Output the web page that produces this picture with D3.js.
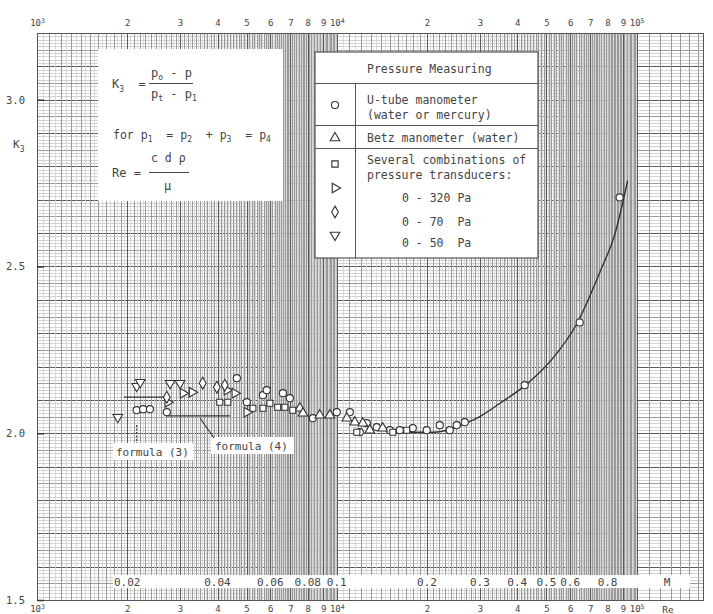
<!DOCTYPE html>
<html>
<head>
<meta charset="utf-8">
<script src="https://cdn.jsdelivr.net/npm/d3@7"></script>
<style>
  body { margin: 0; background: #fff; }
  text { font-family: "DejaVu Sans Mono", "Liberation Mono", monospace; fill: #444; }
</style>
</head>
<body>
<script>
// Re axis tick labels (top and bottom)
var reTicks = [1e3, 2e3, 3e3, 4e3, 5e3, 6e3, 7e3, 8e3, 9e3,
               1e4, 2e4, 3e4, 4e4, 5e4, 6e4, 7e4, 8e4, 9e4, 1e5];
var reTickLabels = ["10|3", "2", "3", "4", "5", "6", "7", "8", "9",
                    "10|4", "2", "3", "4", "5", "6", "7", "8", "9", "10|5"];
// Mach number scale printed inside the plot (M = Re / 1e5)
var machTicks = [0.02, 0.04, 0.06, 0.08, 0.1, 0.2, 0.3, 0.4, 0.5, 0.6, 0.8];
var k3Ticks = [1.5, 2.0, 2.5, 3.0];

// U-tube manometer (circles)
var uTubeRe = [2150, 2260, 2380, 2710, 4640, 5010, 5670, 5840, 6610, 6970, 8320, 10000, 11050,
               11930, 12590, 13590, 15030, 16220, 17920, 19950, 22050, 23810, 25120, 26720,
               42330, 64570, 87760];
var uTubeK3 = [2.069, 2.072, 2.072, 2.063, 2.165, 2.093, 2.114, 2.129, 2.120, 2.105, 2.045, 2.063, 2.063,
               2.003, 2.030, 2.018, 2.009, 2.009, 2.015, 2.009, 2.024, 2.009, 2.024, 2.033,
               2.144, 2.332, 2.707];
// Betz manometer (triangles)
var betzRe = [7530, 7710, 8770, 9480, 10800, 11480, 12210, 12880, 14230];
var betzK3 = [2.075, 2.060, 2.054, 2.054, 2.045, 2.033, 2.030, 2.009, 2.015];
// pressure transducers: squares, right triangles, diamonds, down triangles
var squareRe = [4070, 4330, 5250, 5670, 5980, 6350, 6710, 7130, 11660, 15380, 17110];
var squareK3 = [2.093, 2.093, 2.075, 2.075, 2.090, 2.078, 2.078, 2.069, 2.003, 2.003, 2.009];
var p320Re = [2730, 3070, 3290, 4300, 4570, 5010];
var p320K3 = [2.093, 2.120, 2.123, 2.129, 2.120, 2.063];
var p70Re = [2710, 3570, 3980, 4230];
var p70K3 = [2.108, 2.150, 2.138, 2.144];
var p50Re = [1860, 2150, 2210, 2780, 3000];
var p50K3 = [2.048, 2.141, 2.153, 2.150, 2.150];

// fitted curve
var curveRe = [15000, 18000, 21000, 24000, 27000, 30000, 35000, 42300, 52000, 63000, 76000, 84500, 93300];
var curveK3 = [2.006, 2.003, 2.003, 2.012, 2.030, 2.050, 2.090, 2.142, 2.220, 2.326, 2.490, 2.595, 2.757];

// formula lines
var formula3Re = [1950, 2700], formula3K3 = 2.108;
var formula4Re = [2700, 4400], formula4K3 = 2.052;

var W = 713, H = 614;
var margin = { top: 33, right: 10, bottom: 14, left: 37 };
var width = W - margin.left - margin.right;
var height = H - margin.top - margin.bottom;

var svg = d3.select("body").append("svg")
    .attr("width", W)
    .attr("height", H);

var g = svg.append("g")
    .attr("transform", "translate(" + margin.left + "," + margin.top + ")");

var x = d3.scaleLog().domain([1e3, 1.665e5]).range([0, width]);
var y = d3.scaleLinear().domain([1.5, 3.2]).range([height, 0]);

// ---- graph paper ----
var grid = g.append("g").attr("shape-rendering", "crispEdges");
var vLines = [];
[1e3, 1e4, 1e5].forEach(function(dec) {
    for (var i = 100; i < 1000; i += 5) {
        var v = dec * i / 100;
        if (v > x.domain()[1]) break;
        var kind = i % 100 === 0 ? 2 : (i % 10 === 0 ? 1 : 0);
        if (dec === 1e5 && kind === 0) continue;
        vLines.push({ v: v, kind: kind });
    }
});
var hLines = [];
for (var j = 150; j <= 320; j++) {
    hLines.push({ v: j / 100, kind: j % 10 === 0 ? 2 : (j % 5 === 0 ? 1 : 0) });
}
var gridColor = ["#d2d2d2", "#9a9a9a", "#5a5a5a"];

grid.selectAll(".hl").data(hLines).enter().append("line")
    .attr("x1", 0).attr("x2", width)
    .attr("y1", function(d) { return Math.round(y(d.v)) + 0.5; })
    .attr("y2", function(d) { return Math.round(y(d.v)) + 0.5; })
    .attr("stroke", function(d) { return gridColor[d.kind]; });

grid.selectAll(".vl").data(vLines).enter().append("line")
    .attr("y1", 0).attr("y2", height)
    .attr("x1", function(d) { return Math.round(x(d.v)) + 0.5; })
    .attr("x2", function(d) { return Math.round(x(d.v)) + 0.5; })
    .attr("stroke", function(d) { return gridColor[d.kind]; })
    .attr("stroke-opacity", function(d) { return d.kind === 0 ? 0.8 : 1; });

grid.append("rect")
    .attr("width", width).attr("height", height)
    .attr("fill", "none").attr("stroke", "#555");

// ---- white areas ----
var boxes = g.append("g");
// formula box (absolute coords minus margin)
boxes.append("rect").attr("x", 98 - 37).attr("y", 49 - 33).attr("width", 185).attr("height", 152).attr("fill", "#fff");
// legend box
boxes.append("rect").attr("x", 315 - 37).attr("y", 52 - 33).attr("width", 223).attr("height", 206)
    .attr("fill", "#fff").attr("stroke", "#555").attr("stroke-width", 1.2);
// Mach strip
boxes.append("rect").attr("x", 113 - 37).attr("y", 575 - 33).attr("width", 577).attr("height", 13).attr("fill", "#fff");
// formula labels
boxes.append("rect").attr("x", 113 - 37).attr("y", 443 - 33).attr("width", 80).attr("height", 17).attr("fill", "#fff");
boxes.append("rect").attr("x", 211 - 37).attr("y", 437 - 33).attr("width", 83).attr("height", 17).attr("fill", "#fff");

// ---- axes ----
function supLabels(sel) {
    sel.selectAll("text").each(function(d, i) {
        var lab = reTickLabels[i];
        var t = d3.select(this).text(null);
        if (lab.indexOf("|") >= 0) {
            var parts = lab.split("|");
            t.append("tspan").text(parts[0]);
            t.append("tspan").attr("dy", "-0.5em").attr("font-size", "6.5px").text(parts[1]);
        } else {
            t.text(lab);
        }
    });
    sel.select(".domain").remove();
    sel.selectAll("line").remove();
    sel.selectAll("text").style("font-family", "DejaVu Sans Mono").style("font-size", "9px").attr("fill", "#444");
}
g.append("g").call(d3.axisTop(x).tickValues(reTicks).tickSize(0).tickPadding(7)).call(supLabels);
g.append("g").attr("transform", "translate(0," + height + ")")
    .call(d3.axisBottom(x).tickValues(reTicks).tickSize(0).tickPadding(6)).call(supLabels);

var yAx = g.append("g").call(d3.axisLeft(y).tickValues(k3Ticks).tickSize(-7).tickPadding(12).tickFormat(d3.format(".1f")));
yAx.select(".domain").remove();
yAx.selectAll("line").attr("stroke", "#333").attr("stroke-width", 1.5);
yAx.selectAll("text").style("font-family", "DejaVu Sans Mono").style("font-size", "10.5px").attr("fill", "#555");

var k3Label = g.append("text").attr("x", 13 - 37).attr("y", 148 - 33).style("font-size", "11px");
k3Label.append("tspan").text("K");
k3Label.append("tspan").attr("dy", 4).style("font-size", "8px").text("3");

// Mach labels
g.selectAll(".mach").data(machTicks).enter().append("text")
    .attr("x", function(d) { return x(d * 1e5); })
    .attr("y", 586 - 33)
    .attr("text-anchor", "middle")
    .style("font-size", "11px")
    .text(function(d) { return d; });
g.append("text").attr("x", 667 - 37).attr("y", 586 - 33).attr("text-anchor", "middle").style("font-size", "11px").text("M");
g.append("text").attr("x", 668 - 37).attr("y", 613 - 33).attr("text-anchor", "middle").style("font-size", "9.5px").text("Re");

// ---- formula annotations ----
var ann = g.append("g").attr("stroke", "#333").attr("stroke-width", 1.2);
ann.append("line").attr("x1", x(formula3Re[0])).attr("x2", x(formula3Re[1]))
    .attr("y1", y(formula3K3)).attr("y2", y(formula3K3));
ann.append("line").attr("x1", x(formula4Re[0])).attr("x2", x(formula4Re[1]))
    .attr("y1", y(formula4K3)).attr("y2", y(formula4K3));
ann.append("line").attr("x1", x(2150)).attr("x2", x(2150))
    .attr("y1", y(2.025)).attr("y2", 443 - 33).attr("stroke-dasharray", "2,1.5");
ann.append("line").attr("x1", x(3500)).attr("x2", 214 - 37)
    .attr("y1", y(2.045)).attr("y2", 438 - 33);

g.append("text").attr("x", 116 - 37).attr("y", 456 - 33).style("font-size", "11px").text("formula (3)");
g.append("text").attr("x", 215 - 37).attr("y", 450 - 33).style("font-size", "11px").text("formula (4)");

// ---- curve ----
var curveData = curveRe.map(function(d, i) { return [d, curveK3[i]]; });
g.append("path")
    .datum(curveData)
    .attr("fill", "none")
    .attr("stroke", "#333")
    .attr("stroke-width", 1.4)
    .attr("d", d3.line()
        .x(function(d) { return x(d[0]); })
        .y(function(d) { return y(d[1]); })
        .curve(d3.curveMonotoneX));

// ---- points ----
var series = [
    { re: uTubeRe, k3: uTubeK3, sym: d3.symbolCircle, size: 40, rot: 0 },
    { re: betzRe, k3: betzK3, sym: d3.symbolTriangle, size: 40, rot: 0 },
    { re: squareRe, k3: squareK3, sym: d3.symbolSquare, size: 36, rot: 0 },
    { re: p320Re, k3: p320K3, sym: d3.symbolTriangle, size: 40, rot: 90 },
    { re: p70Re, k3: p70K3, sym: d3.symbolDiamond, size: 40, rot: 0 },
    { re: p50Re, k3: p50K3, sym: d3.symbolTriangle, size: 40, rot: 180 }
];
series.forEach(function(s) {
    g.selectAll(null)
        .data(s.re.map(function(d, i) { return [d, s.k3[i]]; }))
        .enter().append("path")
        .attr("d", d3.symbol().type(s.sym).size(s.size))
        .attr("transform", function(d) {
            return "translate(" + x(d[0]) + "," + y(d[1]) + ") rotate(" + s.rot + ")";
        })
        .attr("fill", "#fff")
        .attr("stroke", "#333")
        .attr("stroke-width", 1.1);
});

// ---- formula box text ----
var f = g.append("g").attr("transform", "translate(-37,-33)");
function sub(t, main, s, dy) {
    t.append("tspan").text(main);
    t.append("tspan").attr("dy", dy || 3).style("font-size", "8px").text(s);
    t.append("tspan").attr("dy", -(dy || 3)).text("\u200a");
}
var t1 = f.append("text").attr("x", 112).attr("y", 88).style("font-size", "12px");
sub(t1, "K", "3", 4);
t1.append("tspan").text(" =");
var num = f.append("text").attr("x", 151).attr("y", 77).style("font-size", "12px");
sub(num, "p", "o");
num.append("tspan").text("- p");
f.append("line").attr("x1", 149).attr("x2", 193).attr("y1", 83.5).attr("y2", 83.5).attr("stroke", "#444");
var den = f.append("text").attr("x", 151).attr("y", 98).style("font-size", "12px");
sub(den, "p", "t");
den.append("tspan").text("- p");
den.append("tspan").attr("dy", 3).style("font-size", "8px").text("1");

var t2 = f.append("text").attr("x", 113).attr("y", 139).style("font-size", "11.5px");
t2.append("tspan").text("for  ");
sub(t2, "p", "1");
t2.append("tspan").text(" = ");
sub(t2, "p", "2");
t2.append("tspan").text(" + ");
sub(t2, "p", "3");
t2.append("tspan").text(" = ");
sub(t2, "p", "4");

f.append("text").attr("x", 112).attr("y", 177).style("font-size", "12px").text("Re =");
f.append("text").attr("x", 151).attr("y", 162).style("font-size", "11.5px").text("c d \u03c1");
f.append("line").attr("x1", 149).attr("x2", 189).attr("y1", 172.5).attr("y2", 172.5).attr("stroke", "#444");
f.append("text").attr("x", 164).attr("y", 190).style("font-size", "12px").text("\u03bc");

// ---- legend ----
var lg = g.append("g").attr("transform", "translate(-37,-33)");
lg.append("line").attr("x1", 315).attr("x2", 538).attr("y1", 83.5).attr("y2", 83.5).attr("stroke", "#555");
lg.append("line").attr("x1", 315).attr("x2", 538).attr("y1", 125.5).attr("y2", 125.5).attr("stroke", "#555");
lg.append("line").attr("x1", 315).attr("x2", 538).attr("y1", 148.5).attr("y2", 148.5).attr("stroke", "#555");
lg.append("line").attr("x1", 355.5).attr("x2", 355.5).attr("y1", 83).attr("y2", 258).attr("stroke", "#555");

var legendSyms = [
    { sym: d3.symbolCircle, rot: 0, y: 105 },
    { sym: d3.symbolTriangle, rot: 0, y: 138 },
    { sym: d3.symbolSquare, rot: 0, y: 164 },
    { sym: d3.symbolTriangle, rot: 90, y: 188 },
    { sym: d3.symbolDiamond, rot: 0, y: 212 },
    { sym: d3.symbolTriangle, rot: 180, y: 235 }
];
legendSyms.forEach(function(s) {
    lg.append("path")
        .attr("d", d3.symbol().type(s.sym).size(40))
        .attr("transform", "translate(335," + s.y + ") rotate(" + s.rot + ")")
        .attr("fill", "#fff").attr("stroke", "#333").attr("stroke-width", 1.1);
});
var legendText = [
    ["Pressure Measuring", 367, 73],
    ["U-tube manometer", 367, 104],
    ["(water or mercury)", 367, 119],
    ["Betz manometer (water)", 367, 142],
    ["Several combinations of", 367, 164],
    ["pressure transducers:", 367, 179],
    ["0 - 320 Pa", 402, 202],
    ["0 - 70  Pa", 402, 226],
    ["0 - 50  Pa", 402, 247]
];
lg.selectAll(".lt").data(legendText).enter().append("text")
    .attr("x", function(d) { return d[1]; })
    .attr("y", function(d) { return d[2]; })
    .style("font-size", "11.5px")
    .style("white-space", "pre")
    .attr("xml:space", "preserve")
    .text(function(d) { return d[0]; });
</script>
</body>
</html>
